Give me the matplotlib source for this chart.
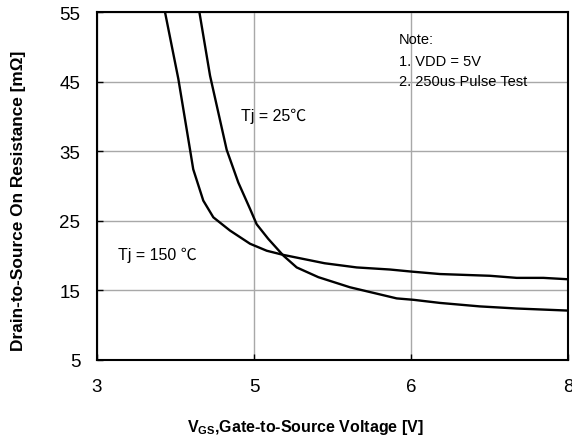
import matplotlib.pyplot as plt

plt.rcParams['font.family'] = ['Liberation Sans', 'DejaVu Sans']

# ------------------ DATA ------------------
# x axis runs linearly 4..7 in plot units, but the source labels the ends 3 and 8
x_ticks = [4, 5, 6, 7]
x_tick_labels = ['3', '5', '6', '8']
y_ticks = [5, 15, 25, 35, 45, 55]

# Tj = 25 C
vgs_25 = [4.652, 4.720, 4.826, 4.90, 4.975, 5.017, 5.091, 5.187, 5.272, 5.41,
          5.611, 5.909, 6.015, 6.185, 6.439, 6.673, 7.0]
rds_25 = [55.0, 45.85, 35.2, 30.5, 26.7, 24.5, 22.4, 20.0, 18.3, 16.9,
          15.45, 13.85, 13.65, 13.2, 12.7, 12.4, 12.1]

# Tj = 150 C
vgs_150 = [4.433, 4.518, 4.592, 4.613, 4.677, 4.741, 4.847, 4.975, 5.081, 5.187,
           5.45, 5.654, 5.866, 6.004, 6.185, 6.503, 6.673, 6.843, 7.0]
rds_150 = [55.0, 45.4, 35.3, 32.4, 27.9, 25.5, 23.6, 21.7, 20.7, 20.1,
           18.9, 18.3, 18.0, 17.7, 17.35, 17.1, 16.8, 16.8, 16.6]
# ------------------------------------------

cjk = ['Liberation Sans', 'Noto Sans CJK SC']

fig = plt.figure(figsize=(5.72, 4.39), dpi=100)
ax = fig.add_axes([97 / 572, 78 / 439, 471 / 572, 348 / 439])

ax.plot(vgs_25, rds_25, color='black', linewidth=1.7)
ax.plot(vgs_150, rds_150, color='black', linewidth=1.7)

ax.set_xlim(4, 7)
ax.set_ylim(5, 55)
ax.set_xticks(x_ticks)
ax.set_xticklabels(x_tick_labels, fontsize=13.5)
ax.set_yticks(y_ticks)
ax.set_yticklabels([str(v) for v in y_ticks], fontsize=13.5)
ax.tick_params(direction='in', length=4, width=1)
ax.tick_params(axis='x', pad=13)
ax.tick_params(axis='y', pad=12)
ax.grid(True, color='#a8a8a8', linewidth=1)
for s in ax.spines.values():
    s.set_linewidth(1.5)

ax.set_xlabel(r'V$_{\mathregular{GS}}$,Gate-to-Source Voltage [V]',
              fontsize=11.5, fontweight='bold')
ax.set_ylabel('Drain-to-Source On Resistance [mΩ]',
              fontsize=12.4, fontweight='bold')
ax.xaxis.set_label_coords(0.442, -0.163)
ax.yaxis.set_label_coords(-0.151, 0.46)

# annotations
ax.text(5.922, 51.1, 'Note:', fontsize=10.5, va='center')
ax.text(5.922, 48.0, '1. VDD = 5V', fontsize=10.5, va='center')
ax.text(5.922, 45.1, '2. 250us Pulse Test', fontsize=10.5, va='center')
ax.text(4.915, 40.2, 'Tj = 25℃', fontsize=11.5, va='center', family=cjk)
ax.text(4.135, 20.2, 'Tj = 150 ℃', fontsize=11.5, va='center', family=cjk)

fig.savefig('out.png', dpi=100, facecolor='white')
